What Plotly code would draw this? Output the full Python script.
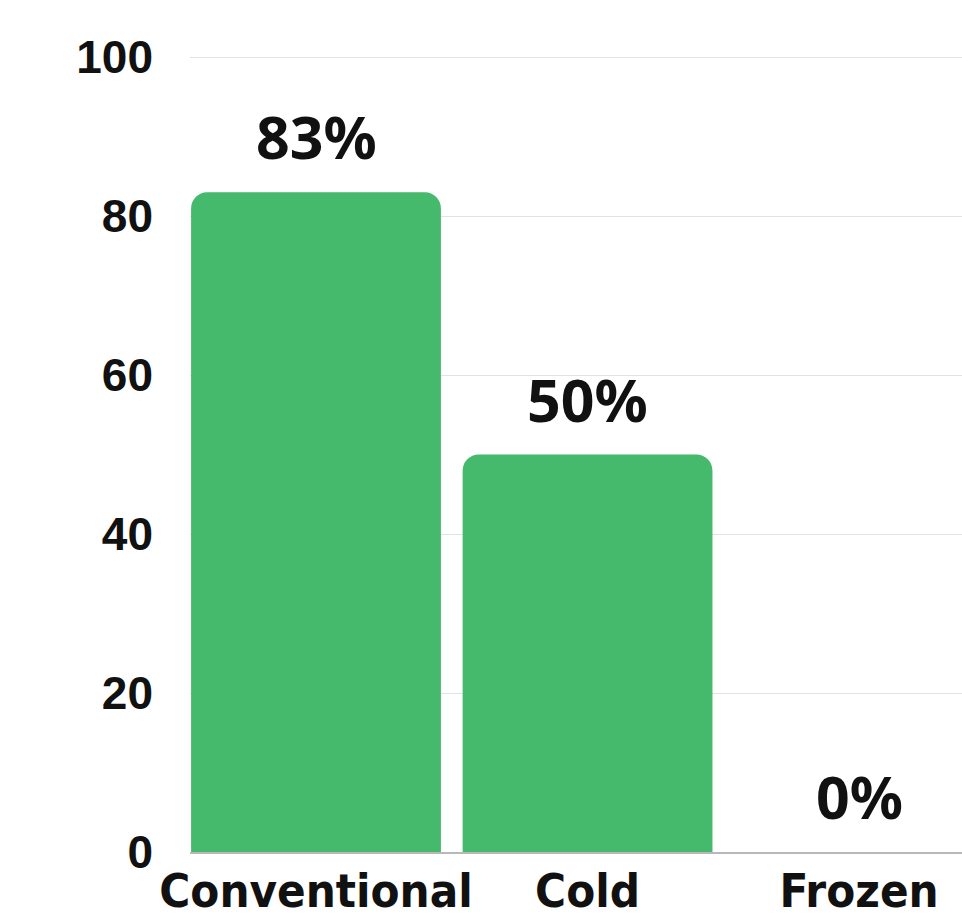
import plotly.graph_objects as go

categories = ["Conventional", "Cold", "Frozen"]
values = [83, 50, 0]
labels = ["83%", "50%", "0%"]
tick_vals = [0, 20, 40, 60, 80, 100]

fig = go.Figure()
fig.add_trace(go.Bar(
    x=categories, y=values, width=0.92,
    marker=dict(color="#45b96c", line=dict(width=0)),
    hoverinfo="skip",
))
for c, v, t in zip(categories, values, labels):
    fig.add_annotation(x=c, y=v, text=t, showarrow=False, yanchor="bottom",
                       yshift=14, font=dict(family="Noto Sans", size=59, color="#111", weight="bold"))

fig.update_layout(
    width=962, height=919,
    margin=dict(l=190, r=0, t=56, b=67),
    paper_bgcolor="white", plot_bgcolor="white",
    showlegend=False,
    barcornerradius=16,
    xaxis=dict(range=[-0.464, 2.379], automargin=False, showgrid=False,
               showline=True, linecolor="#b8b8b8", linewidth=2,
               ticks="", ticklabelstandoff=-3,
               tickfont=dict(family="DejaVu Sans Condensed", size=47, color="#111", weight="bold")),
    yaxis=dict(range=[0, 100.15], tickvals=tick_vals, automargin=False,
               showgrid=True, gridcolor="#e2e2e2", gridwidth=1, zeroline=False,
               ticks="", ticklabelstandoff=36,
               tickfont=dict(family="Liberation Sans", size=46, color="#111", weight="bold")),
)
fig.write_html("out.html")
